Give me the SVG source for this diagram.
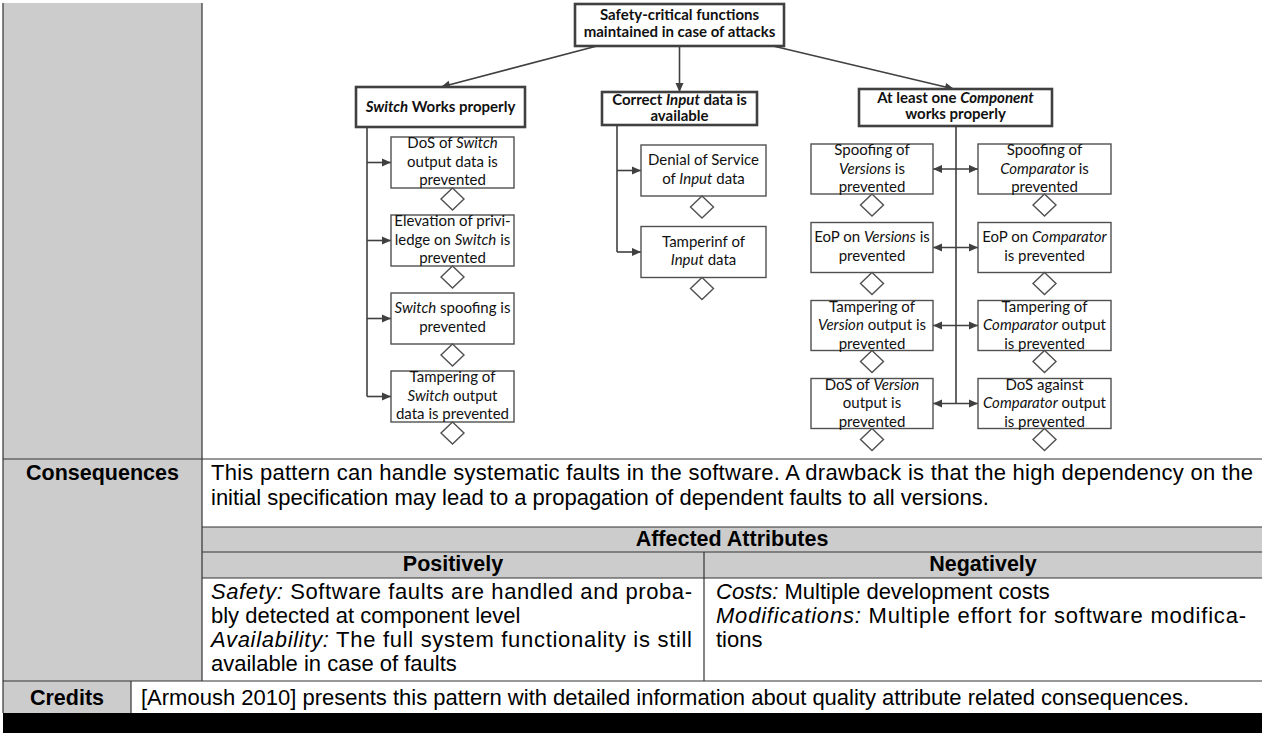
<svg xmlns="http://www.w3.org/2000/svg" width="1262" height="733" viewBox="0 0 1262 733">
  <style>
    .tb { font-family: "Liberation Sans", Arial, sans-serif; font-size: 22px; fill: #000; }
    .tbb { font-family: "Liberation Sans", Arial, sans-serif; font-size: 21.5px; font-weight: bold; fill: #000; }
    .rule { stroke: #333; stroke-width: 1.2; fill: none; }
    .dg { font-family: Lato, "Open Sans", sans-serif; font-size: 15px; fill: #111; text-anchor: middle; }
    .dgb { font-family: Lato, "Open Sans", sans-serif; font-size: 15px; font-weight: bold; fill: #111; text-anchor: middle; }
    .goal { fill: #fff; stroke: #404040; stroke-width: 2.6; }
    .sub { fill: #fff; stroke: #505050; stroke-width: 1.4; }
    .dia { fill: #fff; stroke: #505050; stroke-width: 1.4; }
    .con { stroke: #404040; stroke-width: 1.6; fill: none; }
    .arr { stroke: #404040; stroke-width: 1.6; fill: none; marker-end: url(#ah); }
    .darr { stroke: #404040; stroke-width: 1.6; fill: none; marker-start: url(#ah); marker-end: url(#ah); }
    .it { font-style: italic; }
  </style>
  <defs>
    <marker id="ah" viewBox="0 0 10 10" refX="10" refY="5" markerWidth="10" markerHeight="9" markerUnits="userSpaceOnUse" orient="auto-start-reverse">
      <path d="M0,0.5 L10,5 L0,9.5 z" fill="#404040"/>
    </marker>
    <path id="dmd" d="M0,0 L11.5,11 L0,22 L-11.5,11 z"/>
  </defs>

  <!-- table background and rules -->
  <g id="table">
    <rect x="3" y="3" width="199" height="678" fill="#cccccc"/>
    <rect x="202" y="527" width="1060" height="51" fill="#cccccc"/>
    <rect x="3" y="681" width="128" height="32" fill="#cccccc"/>
    <rect x="3" y="713" width="1259" height="20" fill="#000"/>
    <line class="rule" x1="3" y1="3" x2="3" y2="713"/>
    <line class="rule" x1="202" y1="3" x2="202" y2="681"/>
    <line class="rule" x1="704" y1="552" x2="704" y2="681"/>
    <line class="rule" x1="131" y1="681" x2="131" y2="713"/>
    <line class="rule" x1="3" y1="459" x2="1262" y2="459"/>
    <line class="rule" x1="202" y1="527" x2="1262" y2="527"/>
    <line class="rule" x1="202" y1="552" x2="1262" y2="552"/>
    <line class="rule" x1="202" y1="578" x2="1262" y2="578"/>
    <line class="rule" x1="3" y1="681" x2="1262" y2="681"/>

    <text class="tbb" x="102.5" y="480" text-anchor="middle">Consequences</text>
    <text class="tb" x="211" y="480" textLength="1042" lengthAdjust="spacing">This pattern can handle systematic faults in the software. A drawback is that the high dependency on the</text>
    <text class="tb" x="211" y="505">initial specification may lead to a propagation of dependent faults to all versions.</text>
    <text class="tbb" x="732" y="546" text-anchor="middle">Affected Attributes</text>
    <text class="tbb" x="453" y="571" text-anchor="middle">Positively</text>
    <text class="tbb" x="983" y="571" text-anchor="middle">Negatively</text>
    <text class="tb" x="211" y="599" textLength="481" lengthAdjust="spacing"><tspan class="it">Safety:</tspan> Software faults are handled and proba-</text>
    <text class="tb" x="211" y="623">bly detected at component level</text>
    <text class="tb" x="211" y="647" textLength="481" lengthAdjust="spacing"><tspan class="it">Availability:</tspan> The full system functionality is still</text>
    <text class="tb" x="211" y="671">available in case of faults</text>
    <text class="tb" x="716" y="599"><tspan class="it">Costs:</tspan> Multiple development costs</text>
    <text class="tb" x="716" y="623" textLength="530" lengthAdjust="spacing"><tspan class="it">Modifications:</tspan> Multiple effort for software modifica-</text>
    <text class="tb" x="716" y="647">tions</text>
    <text class="tbb" x="67" y="705" text-anchor="middle">Credits</text>
    <text class="tb" x="141" y="705">[Armoush 2010] presents this pattern with detailed information about quality attribute related consequences.</text>
  </g>

  <!-- connectors -->
  <g id="connectors">
    <line class="arr" x1="597" y1="46" x2="441" y2="87"/>
    <line class="arr" x1="679.5" y1="46" x2="679.5" y2="92"/>
    <line class="arr" x1="773" y1="46" x2="954" y2="89"/>

    <line class="con" x1="367" y1="127" x2="367" y2="396.5"/>
    <line class="arr" x1="367" y1="162.5" x2="391" y2="162.5"/>
    <line class="arr" x1="367" y1="240.5" x2="391" y2="240.5"/>
    <line class="arr" x1="367" y1="318.5" x2="391" y2="318.5"/>
    <line class="arr" x1="367" y1="396.5" x2="391" y2="396.5"/>

    <line class="con" x1="617" y1="125" x2="617" y2="252"/>
    <line class="arr" x1="617" y1="170.5" x2="641" y2="170.5"/>
    <line class="arr" x1="617" y1="252" x2="641" y2="252"/>

    <line class="con" x1="956" y1="126" x2="956" y2="403.5"/>
    <line class="darr" x1="933" y1="169" x2="978" y2="169"/>
    <line class="darr" x1="933" y1="247.5" x2="978" y2="247.5"/>
    <line class="darr" x1="933" y1="325.5" x2="978" y2="325.5"/>
    <line class="darr" x1="933" y1="403.5" x2="978" y2="403.5"/>
  </g>

  <!-- top goal -->
  <g id="root">
    <rect class="goal" x="575" y="4" width="209" height="42"/>
    <text class="dgb" x="679.5" y="20">Safety-critical functions</text>
    <text class="dgb" x="679.5" y="37">maintained in case of attacks</text>
  </g>

  <!-- switch branch -->
  <g id="switch-goal">
    <rect class="goal" x="356" y="87" width="169" height="40"/>
    <text class="dgb" x="440.5" y="112"><tspan class="it">Switch</tspan> Works properly</text>
  </g>
  <g id="switch-dos">
    <rect class="sub" x="391" y="137" width="123" height="51"/>
    <text class="dg" x="452.5" y="148"><tspan>DoS of </tspan><tspan class="it">Switch</tspan></text>
    <text class="dg" x="452.5" y="166.5">output data is</text>
    <text class="dg" x="452.5" y="185">prevented</text>
    <use href="#dmd" x="452.5" y="188" class="dia"/>
  </g>
  <g id="switch-eop">
    <rect class="sub" x="391" y="215" width="123" height="51"/>
    <text class="dg" x="452.5" y="226">Elevation of privi-</text>
    <text class="dg" x="452.5" y="244.5">ledge on <tspan class="it">Switch</tspan> is</text>
    <text class="dg" x="452.5" y="263">prevented</text>
    <use href="#dmd" x="452.5" y="266" class="dia"/>
  </g>
  <g id="switch-spoof">
    <rect class="sub" x="391" y="293" width="123" height="51"/>
    <text class="dg" x="452.5" y="313"><tspan class="it">Switch</tspan> spoofing is</text>
    <text class="dg" x="452.5" y="331.5">prevented</text>
    <use href="#dmd" x="452.5" y="344" class="dia"/>
  </g>
  <g id="switch-tamper">
    <rect class="sub" x="391" y="371" width="123" height="51"/>
    <text class="dg" x="452.5" y="382">Tampering of</text>
    <text class="dg" x="452.5" y="400.5"><tspan class="it">Switch</tspan> output</text>
    <text class="dg" x="452.5" y="419">data is prevented</text>
    <use href="#dmd" x="452.5" y="422" class="dia"/>
  </g>

  <!-- input branch -->
  <g id="input-goal">
    <rect class="goal" x="602" y="92" width="155" height="33"/>
    <text class="dgb" x="679.5" y="105">Correct <tspan class="it">Input</tspan> data is</text>
    <text class="dgb" x="679.5" y="121">available</text>
  </g>
  <g id="input-dos">
    <rect class="sub" x="641" y="145" width="125" height="51"/>
    <text class="dg" x="703.5" y="165">Denial of Service</text>
    <text class="dg" x="703.5" y="183.5">of <tspan class="it">Input</tspan> data</text>
    <use href="#dmd" x="702" y="196" class="dia"/>
  </g>
  <g id="input-tamper">
    <rect class="sub" x="641" y="226.5" width="125" height="51"/>
    <text class="dg" x="703.5" y="246.5">Tamperinf of</text>
    <text class="dg" x="703.5" y="265"><tspan class="it">Input</tspan> data</text>
    <use href="#dmd" x="702" y="277.5" class="dia"/>
  </g>

  <!-- component branch -->
  <g id="component-goal">
    <rect class="goal" x="859" y="89" width="193" height="37"/>
    <text class="dgb" x="955.5" y="103">At least one <tspan class="it">Component</tspan></text>
    <text class="dgb" x="955.5" y="119">works properly</text>
  </g>
  <g id="versions-spoof">
    <rect class="sub" x="811" y="144" width="122" height="50"/>
    <text class="dg" x="872" y="155">Spoofing of</text>
    <text class="dg" x="872" y="173.5"><tspan class="it">Versions</tspan> is</text>
    <text class="dg" x="872" y="192">prevented</text>
    <use href="#dmd" x="872" y="194" class="dia"/>
  </g>
  <g id="comparator-spoof">
    <rect class="sub" x="978" y="144" width="133" height="50"/>
    <text class="dg" x="1044.5" y="155">Spoofing of</text>
    <text class="dg" x="1044.5" y="173.5"><tspan class="it">Comparator</tspan> is</text>
    <text class="dg" x="1044.5" y="192">prevented</text>
    <use href="#dmd" x="1044.5" y="194" class="dia"/>
  </g>
  <g id="versions-eop">
    <rect class="sub" x="811" y="222.5" width="122" height="50"/>
    <text class="dg" x="872" y="242">EoP on <tspan class="it">Versions</tspan> is</text>
    <text class="dg" x="872" y="260.5">prevented</text>
    <use href="#dmd" x="872" y="272.5" class="dia"/>
  </g>
  <g id="comparator-eop">
    <rect class="sub" x="978" y="222.5" width="133" height="50"/>
    <text class="dg" x="1044.5" y="242">EoP on <tspan class="it">Comparator</tspan></text>
    <text class="dg" x="1044.5" y="260.5">is prevented</text>
    <use href="#dmd" x="1044.5" y="272.5" class="dia"/>
  </g>
  <g id="versions-tamper">
    <rect class="sub" x="811" y="300.5" width="122" height="50"/>
    <text class="dg" x="872" y="311.5">Tampering of</text>
    <text class="dg" x="872" y="330"><tspan class="it">Version</tspan> output is</text>
    <text class="dg" x="872" y="348.5">prevented</text>
    <use href="#dmd" x="872" y="350.5" class="dia"/>
  </g>
  <g id="comparator-tamper">
    <rect class="sub" x="978" y="300.5" width="133" height="50"/>
    <text class="dg" x="1044.5" y="311.5">Tampering of</text>
    <text class="dg" x="1044.5" y="330"><tspan class="it">Comparator</tspan> output</text>
    <text class="dg" x="1044.5" y="348.5">is prevented</text>
    <use href="#dmd" x="1044.5" y="350.5" class="dia"/>
  </g>
  <g id="versions-dos">
    <rect class="sub" x="811" y="378.5" width="122" height="50"/>
    <text class="dg" x="872" y="389.5">DoS of <tspan class="it">Version</tspan></text>
    <text class="dg" x="872" y="408">output is</text>
    <text class="dg" x="872" y="426.5">prevented</text>
    <use href="#dmd" x="872" y="428.5" class="dia"/>
  </g>
  <g id="comparator-dos">
    <rect class="sub" x="978" y="378.5" width="133" height="50"/>
    <text class="dg" x="1044.5" y="389.5">DoS against</text>
    <text class="dg" x="1044.5" y="408"><tspan class="it">Comparator</tspan> output</text>
    <text class="dg" x="1044.5" y="426.5">is prevented</text>
    <use href="#dmd" x="1044.5" y="428.5" class="dia"/>
  </g>
</svg>
